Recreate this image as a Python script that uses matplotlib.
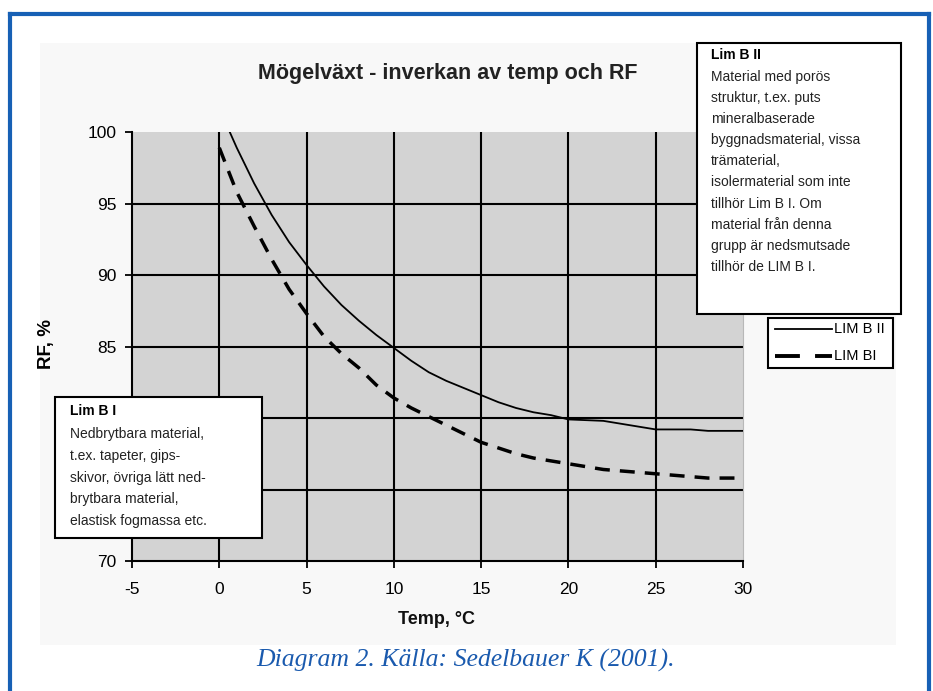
import matplotlib
matplotlib.use("Agg")
import matplotlib.pyplot as plt
from matplotlib.patches import Rectangle
from matplotlib.lines import Line2D
from matplotlib.ticker import FuncFormatter

# ---- data ----
temp_b2 = [0.6, 1, 2, 3, 4, 5, 6, 7, 8, 9, 10, 11, 12, 13, 14, 15, 16, 17, 18, 19,
           20, 21, 22, 23, 24, 25, 26, 27, 28, 29, 30]
rf_b2 = [100, 98.9, 96.4, 94.2, 92.3, 90.7, 89.2, 87.9, 86.8, 85.8, 84.9, 84.0, 83.2,
         82.6, 82.1, 81.6, 81.1, 80.7, 80.4, 80.2, 79.9, 79.85, 79.8, 79.6, 79.4, 79.2,
         79.2, 79.2, 79.1, 79.1, 79.1]
temp_b1 = [0, 1, 2, 3, 4, 5, 6, 7, 8, 9, 10, 11, 12, 13, 14, 15, 16, 17, 18, 19,
           20, 21, 22, 23, 24, 25, 26, 27, 28, 29, 30]
rf_b1 = [98.9, 95.8, 93.4, 91.1, 89.0, 87.3, 85.7, 84.5, 83.5, 82.3, 81.4, 80.7, 80.1,
         79.5, 78.9, 78.3, 77.9, 77.5, 77.2, 77.0, 76.8, 76.6, 76.4, 76.3, 76.2, 76.1,
         76.0, 75.9, 75.8, 75.8, 75.8]
x_ticks = [-5, 0, 5, 10, 15, 20, 25, 30]
y_ticks = [70, 75, 80, 85, 90, 95, 100]
y_hidden_labels = [75, 80]  # covered by the "Lim B I" box in the original
series_names = ["LIM B II", "LIM BI"]

title = "Mögelväxt - inverkan av temp och RF"
xlabel = "Temp, °C"
ylabel = "RF, %"
caption = "Diagram 2. Källa: Sedelbauer K (2001)."
box1_title = "Lim B I"
box1_lines = ["Nedbrytbara material,", "t.ex. tapeter, gips-", "skivor, övriga lätt ned-",
              "brytbara material,", "elastisk fogmassa etc."]
box2_title = "Lim B II"
box2_lines = ["Material med porös", "struktur, t.ex. puts", "mineralbaserade",
              "byggnadsmaterial, vissa", "trämaterial,", "isolermaterial som inte",
              "tillhör Lim B I. Om", "material från denna", "grupp är nedsmutsade",
              "tillhör de LIM B I."]

W, H = 933, 691
plt.rcParams["font.family"] = ["Liberation Sans", "DejaVu Sans"]
plt.rcParams["axes.unicode_minus"] = False
fig = plt.figure(figsize=(W / 100, H / 100), dpi=100)
fig.patch.set_facecolor("white")


def fx(px):
    return px / W


def fy(py):
    return 1 - py / H


def frect(x0, y0, x1, y1, **kw):
    r = Rectangle((fx(x0), fy(y1)), fx(x1) - fx(x0), fy(y0) - fy(y1),
                  transform=fig.transFigure, **kw)
    fig.add_artist(r)
    return r


# light chart panel
frect(40, 43, 896, 645, facecolor="#f8f8f8", edgecolor="none", zorder=-1)
# blue frame
blue = "#1760b5"
for xs, ys in [([10, 10], [14, 700]), ([10, 929], [14, 14]), ([929, 929], [14, 700])]:
    fig.add_artist(Line2D([fx(v) for v in xs], [fy(v) for v in ys], color=blue, lw=3,
                          transform=fig.transFigure, zorder=-1))

# plot axes
L, R, T, B = 132, 743, 132, 561
ax = fig.add_axes([fx(L), fy(B), fx(R) - fx(L), fy(T) - fy(B)])
ax.set_zorder(1)
ax.set_facecolor("#d3d3d3")
ax.set_xlim(-5, 30)
ax.set_ylim(70, 100)
for v in y_ticks[1:-1]:
    ax.axhline(v, color="black", lw=1.5, zorder=1)
for v in x_ticks[1:-1]:
    ax.axvline(v, color="black", lw=1.5, zorder=1)
ax.plot(temp_b2, rf_b2, color="black", lw=1.3, zorder=3, label=series_names[0])
ax.plot(temp_b1, rf_b1, color="black", lw=2.5, dashes=(4.3, 2.9), zorder=3, label=series_names[1])
ax.set_xticks(x_ticks)
ax.set_yticks(y_ticks)
ax.yaxis.set_major_formatter(FuncFormatter(lambda v, p: "" if round(v) in y_hidden_labels else f"{v:g}"))
ax.tick_params(direction="out", length=5, width=1.3, labelsize=12.5, colors="black")
ax.tick_params(axis="x", pad=10)
ax.tick_params(axis="y", pad=6)
ax.spines["top"].set_visible(False)
ax.spines["right"].set_color("#b8b8b8")
ax.spines["right"].set_linewidth(0.8)
ax.spines["left"].set_linewidth(1.5)
ax.spines["bottom"].set_linewidth(1.5)

# title and labels
fig.text(fx(448), fy(73), title, ha="center", va="center", fontsize=15.5, fontweight="bold", color="#222222")
fig.text(fx(437), fy(620), xlabel, ha="center", va="center", fontsize=13, fontweight="bold", color="#111111")
fig.text(fx(46), fy(344), ylabel, ha="center", va="center", fontsize=13.5, fontweight="bold", rotation=90)

# annotation box Lim B I
frect(55, 397, 262, 538, facecolor="white", edgecolor="black", lw=1.5, zorder=5)
fig.text(fx(70), fy(411), box1_title, ha="left", va="center", fontsize=10, fontweight="bold", zorder=6)
for i, s in enumerate(box1_lines):
    fig.text(fx(70), fy(434 + i * 21.8), s, ha="left", va="center", fontsize=10, color="#222222", zorder=6)

# annotation box Lim B II
frect(697, 43, 901, 314, facecolor="white", edgecolor="black", lw=1.5, zorder=5)
fig.text(fx(711), fy(55), box2_title, ha="left", va="center", fontsize=10, fontweight="bold", zorder=6)
for i, s in enumerate(box2_lines):
    fig.text(fx(711), fy(77 + i * 21.1), s, ha="left", va="center", fontsize=10, color="#222222", zorder=6)

# legend box
frect(768, 318, 893, 368, facecolor="white", edgecolor="black", lw=1.5, zorder=5)
fig.add_artist(Line2D([fx(775), fx(832)], [fy(329), fy(329)], color="black", lw=1.3,
                      transform=fig.transFigure, zorder=6))
fig.add_artist(Line2D([fx(775), fx(832)], [fy(356), fy(356)], color="black", lw=2.8,
                      dashes=(6.4, 3.9), transform=fig.transFigure, zorder=6))
fig.text(fx(834), fy(329), series_names[0], ha="left", va="center", fontsize=10.5, zorder=6)
fig.text(fx(834), fy(356), series_names[1], ha="left", va="center", fontsize=10.5, zorder=6)

# caption
fig.text(fx(466), fy(660), caption, ha="center", va="center", fontsize=18.5, style="italic",
         family=["Liberation Serif", "DejaVu Serif"], color="#1a5aae")

fig.savefig("out.png", dpi=100)
